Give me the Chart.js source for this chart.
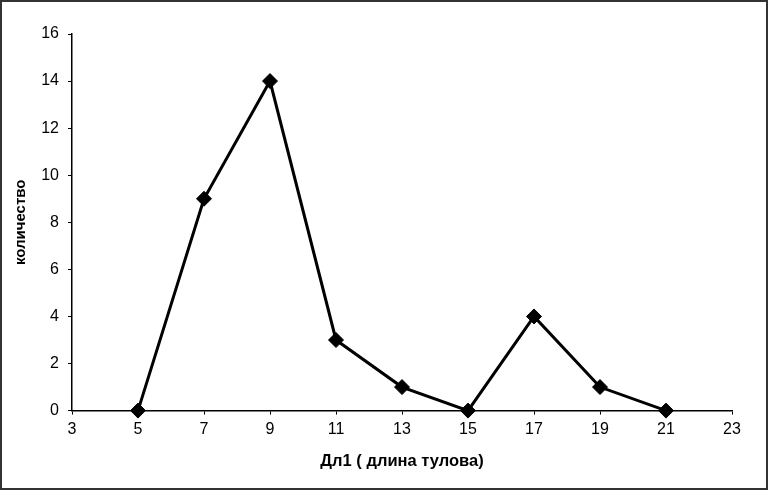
<!DOCTYPE html>
<html lang="ru">
<head>
  <meta charset="UTF-8" />
  <title>количество</title>
  <script src="https://cdn.jsdelivr.net/npm/chart.js"></script>
  <style>
    html, body { margin: 0; padding: 0; background: #fff; }
    #wrap { width: 768px; height: 490px; }
  </style>
</head>
<body>
  <div id="wrap"><canvas id="myChart" width="768" height="490"></canvas></div>
  <script>
    // data
    const lengths = [5, 7, 9, 11, 13, 15, 17, 19, 21];
    const counts = [0, 9, 14, 3, 1, 0, 4, 1, 0];
    const xTicks = [3, 5, 7, 9, 11, 13, 15, 17, 19, 21, 23];
    const yTicks = [0, 2, 4, 6, 8, 10, 12, 14, 16];

    const font = 'Liberation Sans, Arial, sans-serif';

    // dark frame round the whole picture
    const framePlugin = {
      id: 'frame',
      afterDraw(chart) {
        const c = chart.ctx;
        c.save();
        c.strokeStyle = '#333';
        c.lineWidth = 2;
        c.strokeRect(1, 1, chart.width - 2, chart.height - 2);
        c.restore();
      }
    };

    const ctx = document.getElementById('myChart').getContext('2d');

    new Chart(ctx, {
      type: 'scatter',
      data: {
        datasets: [{
          data: lengths.map((x, i) => ({ x: x, y: counts[i] })),
          showLine: true,
          clip: false,
          borderColor: '#000',
          borderWidth: 3,
          backgroundColor: '#000',
          pointStyle: 'rectRot',
          pointRadius: 7.5,
          pointBorderWidth: 1,
          pointBorderColor: '#000',
          pointBackgroundColor: '#000',
          tension: 0
        }]
      },
      options: {
        responsive: false,
        animation: false,
        layout: { padding: { top: 34, right: 36, left: 0, bottom: 0 } },
        plugins: {
          legend: { display: false },
          tooltip: { enabled: false }
        },
        scales: {
          x: {
            type: 'linear',
            min: 3,
            max: 23,
            afterBuildTicks: (s) => { s.ticks = xTicks.map(v => ({ value: v })); },
            afterFit: (s) => { s.height = 79.4; },
            grid: { drawOnChartArea: false, drawTicks: true, tickLength: 4, tickColor: '#000', tickWidth: 1 },
            border: { display: true, color: '#000', width: 1.5 },
            ticks: { color: '#000', font: { family: font, size: 16 }, padding: 5, maxRotation: 0 },
            title: {
              display: true,
              text: 'Дл1 ( длина тулова)',
              color: '#000',
              font: { family: font, size: 16.5, weight: 'bold' },
              padding: { top: 0, bottom: 19 }
            }
          },
          y: {
            min: 0,
            max: 16,
            afterBuildTicks: (s) => { s.ticks = yTicks.map(v => ({ value: v })); },
            afterFit: (s) => { s.width = 72; },
            grid: { drawOnChartArea: false, drawTicks: true, tickLength: 4, tickColor: '#000', tickWidth: 1 },
            border: { display: true, color: '#000', width: 1.5 },
            ticks: { color: '#000', font: { family: font, size: 16 }, padding: 9 },
            title: {
              display: true,
              text: 'количество',
              color: '#000',
              font: { family: font, size: 15, weight: 'bold' },
              padding: { top: 12, bottom: 0 }
            }
          }
        }
      },
      plugins: [framePlugin]
    });
  </script>
</body>
</html>
